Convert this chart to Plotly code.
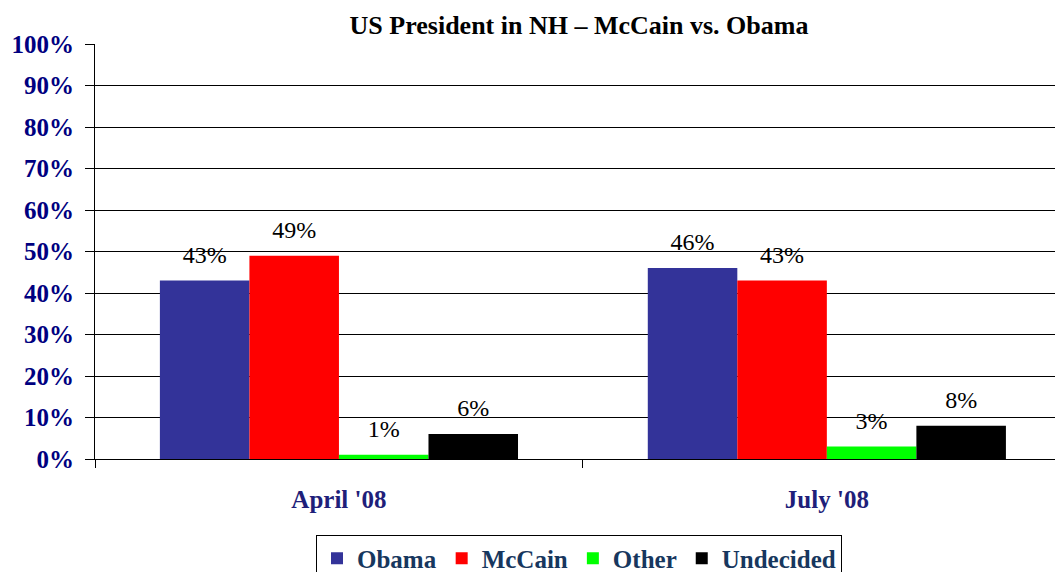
import plotly.graph_objects as go

categories = ["April '08", "July '08"]
series_names = ["Obama", "McCain", "Other", "Undecided"]
obama = [43, 46]
mccain = [49, 43]
other = [1, 3]
undecided = [6, 8]
y_ticks = [0, 10, 20, 30, 40, 50, 60, 70, 80, 90, 100]
y_tick_labels = [f"{v}%" for v in y_ticks]

colors = ["#333399", "#FF0000", "#00FF00", "#000000"]
values = [obama, mccain, other, undecided]

FONT = "Liberation Serif, Times New Roman, serif"

fig = go.Figure()
for name, vals, col in zip(series_names, values, colors):
    fig.add_trace(go.Bar(
        name=name, x=categories, y=vals, offsetgroup=name,
        marker=dict(color=col, line=dict(width=0)),
    ))
for name, vals in zip(series_names, values):
    fig.add_trace(go.Scatter(
        name=name, x=categories, y=vals, offsetgroup=name,
        mode="markers+text", showlegend=False, hoverinfo="skip",
        marker=dict(size=17, color="rgba(0,0,0,0)"),
        text=[f"{v}%" for v in vals], textposition="top center", cliponaxis=False,
        textfont=dict(family=FONT, size=24, color="black"),
    ))

# page has an 8px body margin, so the figure is 8px smaller and offset
fig.update_layout(
    width=1055, height=564,
    margin=dict(l=87, r=0, t=36, b=113, autoexpand=False),
    font=dict(family=FONT),
    paper_bgcolor="white", plot_bgcolor="white",
    barmode="group", bargap=0.266, bargroupgap=0,
    scattermode="group", scattergap=0.266,
    title=dict(text="US President in NH – McCain vs. Obama",
               x=0.5, xref="paper", y=0.970, yanchor="middle",
               font=dict(family=FONT, size=26, color="black", weight="bold")),
    showlegend=True,
    legend=dict(orientation="h", x=0.5, xanchor="center", xref="paper",
                y=-0.182, yanchor="top", bordercolor="black", borderwidth=1,
                font=dict(family=FONT, size=25, color="#17375E", weight="bold"),
                itemsizing="constant", traceorder="normal"),
)
fig.update_xaxes(
    range=[-0.5, 1.484], showline=True, linecolor="black", linewidth=1,
    ticks="outside", tickson="boundaries", ticklen=8, tickcolor="black",
    tickfont=dict(family=FONT, size=25, color="#1F1F7A", weight="bold"),
    ticklabelstandoff=18, automargin=False,
    showgrid=False, zeroline=False,
)
fig.update_yaxes(
    range=[0, 100], tickvals=y_ticks, ticktext=y_tick_labels,
    showline=True, linecolor="black", linewidth=1,
    ticks="outside", ticklen=9, tickcolor="black",
    tickfont=dict(family=FONT, size=25, color="#000080", weight="bold"),
    ticklabelstandoff=6, automargin=False,
    showgrid=True, gridcolor="black", gridwidth=1, zeroline=False,
)

fig.write_html("out.html")
